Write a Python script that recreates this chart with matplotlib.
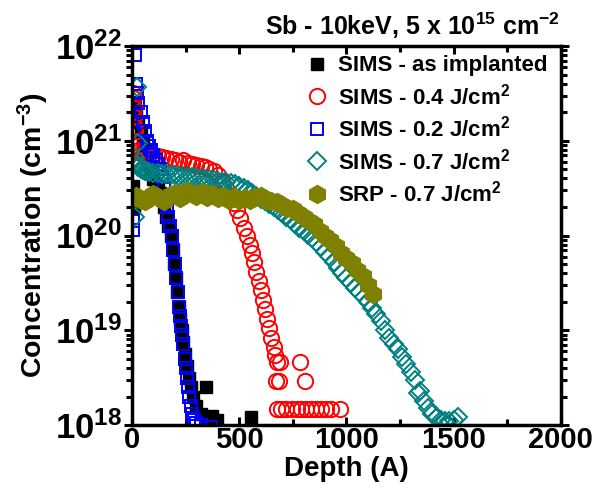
#%%
import numpy as np
import matplotlib
matplotlib.use("Agg")
import matplotlib.pyplot as plt
from matplotlib.ticker import FixedLocator, LogLocator, NullFormatter

plt.rcParams['font.family'] = ['Liberation Sans', 'DejaVu Sans']
plt.rcParams['font.weight'] = 'bold'
plt.rcParams['mathtext.fontset'] = 'custom'
plt.rcParams['mathtext.rm'] = 'Liberation Sans:bold'
plt.rcParams['mathtext.bf'] = 'Liberation Sans:bold'
plt.rcParams['mathtext.it'] = 'Liberation Sans:bold'

#%% data (depth in A, log10 of concentration in cm^-3)
asimp_d = [5, 8, 15, 20, 30, 40, 50, 60, 70, 80, 90, 100, 110, 120, 130, 140, 150, 160,
           170, 180, 190, 198, 205, 212, 218, 225, 232, 240, 248, 256, 265, 275, 285,
           300, 320, 345, 350, 375, 395, 556]
asimp_logc = [20.52, 20.3, 21.4, 21.3, 21.2, 21.1, 21.0, 20.9, 20.82, 20.74, 20.66, 20.6,
              20.55, 20.5, 20.45, 20.4, 20.3, 20.2, 20.1, 20.0, 19.85, 19.7, 19.55, 19.4,
              19.25, 19.12, 19.0, 18.88, 18.75, 18.62, 18.5, 18.4, 18.3, 18.2, 18.12,
              18.4, 18.05, 18.1, 18.05, 18.08]

j04_d = [3, 5, 8, 10, 12, 15, 18, 22, 26, 30, 40, 50, 60, 80, 100, 120, 140, 160, 180,
         200, 220, 240, 260, 280, 300, 320, 340, 360, 380, 400, 420, 440, 460, 475, 490,
         505, 520, 535, 550, 560, 570, 580, 590, 600, 610, 620, 630, 640, 650, 660, 665,
         675, 690, 670, 684, 782, 805,
         675, 695, 720, 745, 770, 790, 810, 835, 860, 880, 905, 930, 968]
j04_logc = [21.5, 21.45, 21.35, 21.25, 21.15, 21.1, 21.0, 20.95, 20.9, 20.88, 20.87, 20.86,
            20.86, 20.85, 20.85, 20.84, 20.83, 20.82, 20.81, 20.8, 20.78, 20.8, 20.77,
            20.75, 20.74, 20.73, 20.72, 20.7, 20.68, 20.64, 20.58, 20.5, 20.42, 20.34,
            20.27, 20.18, 20.08, 20.0, 19.9, 19.82, 19.72, 19.62, 19.52, 19.42, 19.32,
            19.22, 19.12, 19.02, 18.92, 18.82, 18.74, 18.66, 18.66, 18.46, 18.46, 18.66,
            18.46,
            18.17, 18.17, 18.17, 18.17, 18.17, 18.17, 18.17, 18.17, 18.17, 18.17, 18.17,
            18.17, 18.17]

j02_d = [3, 5, 15, 20, 25, 30, 40, 50, 60, 70, 80, 90, 100, 110, 120, 130, 140, 150, 160,
         165, 170, 178, 185, 192, 200, 207, 213, 220, 224, 228, 232, 238, 245, 250, 255,
         262, 268, 275, 282, 290, 300, 320, 370]
j02_logc = [20.15, 20.06, 21.9, 21.6, 21.5, 21.4, 21.3, 21.2, 21.1, 21.0, 20.95, 20.9,
            20.85, 20.8, 20.75, 20.7, 20.62, 20.5, 20.38, 20.3, 20.2, 20.1, 20.0, 19.85,
            19.7, 19.55, 19.4, 19.25, 19.15, 19.05, 18.95, 18.85, 18.7, 18.6, 18.5, 18.4,
            18.3, 18.2, 18.12, 18.05, 18.02, 18.0, 17.98]

j07_d = [12, 22, 28, 15, 25, 30, 40, 50, 60, 70, 80, 100, 120, 140, 160, 180, 200, 220,
         240, 260, 280, 300, 320, 340, 360, 380, 400, 420, 440, 460, 480, 500, 520, 540,
         560, 580, 600, 620, 640, 660, 680, 700, 720, 740, 760, 780, 800, 820, 840, 860,
         880, 900, 920, 940, 960, 980, 1000, 1020, 1040, 1060, 1080, 1100, 1120, 1140,
         1160, 1180, 1200, 1220, 1240, 1260, 1280, 1300, 1320, 1332, 1345, 1360, 1380,
         1400, 1420, 1440, 1460, 1480, 1500, 1520]
j07_logc = [20.2, 21.57, 20.98, 20.82, 20.76, 20.72, 20.7, 20.69, 20.68, 20.68, 20.67,
            20.66, 20.66, 20.65, 20.65, 20.64, 20.64, 20.63, 20.63, 20.62, 20.62, 20.62,
            20.61, 20.6, 20.6, 20.59, 20.58, 20.57, 20.56, 20.55, 20.54, 20.52, 20.5,
            20.48, 20.45, 20.42, 20.39, 20.36, 20.33, 20.3, 20.27, 20.24, 20.2, 20.16,
            20.12, 20.08, 20.05, 20.01, 19.97, 19.93, 19.88, 19.83, 19.78, 19.72, 19.66,
            19.6, 19.55, 19.5, 19.45, 19.4, 19.35, 19.3, 19.24, 19.17, 19.1, 19.0,
            18.92, 18.86, 18.8, 18.72, 18.64, 18.56, 18.48, 18.34, 18.36, 18.25, 18.18,
            18.12, 18.08, 18.05, 18.04, 18.04, 18.05, 18.08]

srp_d = [20, 40, 60, 80, 100, 125, 150, 175, 200, 225, 250, 275, 300, 325, 350, 375, 400,
         425, 450, 475, 500, 525, 550, 575, 600, 625, 650, 675, 700, 725, 750, 775, 800,
         825, 850, 875, 900, 925, 950, 975, 1000, 1025, 1050, 1075, 1100, 1125]
srp_logc = [20.42, 20.38, 20.36, 20.41, 20.44, 20.4, 20.36, 20.43, 20.45, 20.4, 20.47,
            20.45, 20.42, 20.46, 20.41, 20.44, 20.4, 20.42, 20.38, 20.41, 20.38, 20.4,
            20.37, 20.41, 20.42, 20.38, 20.36, 20.35, 20.32, 20.29, 20.28, 20.24, 20.2,
            20.15, 20.12, 20.05, 20.0, 19.95, 19.89, 19.82, 19.76, 19.71, 19.64, 19.57,
            19.48, 19.38]

labels = ["SIMS - as implanted", "SIMS - 0.4 J/cm$^2$", "SIMS - 0.2 J/cm$^2$",
          "SIMS - 0.7 J/cm$^2$", "SRP - 0.7 J/cm$^2$"]

#%%
fig = plt.figure(figsize=(6.07, 5.03), dpi=100)
ax = fig.add_axes([0.2175, 0.155, 0.7065, 0.7535])

ax.plot(asimp_d, 10**np.array(asimp_logc), ls="none", marker="s", ms=9,
        color="black", label=labels[0])
ax.plot(j04_d, 10**np.array(j04_logc), ls="none", marker="o", ms=11, mfc="none",
        mec="#ff0000", mew=1.4, label=labels[1])
ax.plot(j02_d, 10**np.array(j02_logc), ls="none", marker="s", ms=9, mfc="none",
        mec="#0000ff", mew=1.4, label=labels[2])
ax.plot(j07_d, 10**np.array(j07_logc), ls="none", marker="D", ms=9, mfc="none",
        mec="#008080", mew=1.4, label=labels[3])
ax.plot(srp_d, 10**np.array(srp_logc), ls="none", marker="h", ms=13,
        color="#808000", label=labels[4])

ax.set_yscale("log")
ax.set_xlim(0, 2000)
ax.set_ylim(1e18, 1e22)

ax.xaxis.set_minor_locator(FixedLocator([250, 750, 1250, 1750]))
ax.yaxis.set_minor_locator(LogLocator(base=10, subs=np.arange(2, 10), numticks=20))
ax.yaxis.set_minor_formatter(NullFormatter())
yt = [1e18, 1e19, 1e20, 1e21, 1e22]
ax.set_yticks(yt)
ax.set_yticklabels(["$10^{%d}$" % int(np.log10(v)) for v in yt], fontsize=25)
ax.set_xticks([0, 500, 1000, 1500, 2000])
ax.set_xticklabels(["0", "500", "1000", "1500", "2000"], fontsize=21, fontweight="bold")

ax.tick_params(which="major", direction="out", length=6, width=2.2, pad=1)
ax.tick_params(which="minor", direction="out", length=4, width=2.2)
ax.tick_params(axis="y", which="both", right=True)
ax.tick_params(axis="x", which="both", top=True, direction="in")
for s in ax.spines.values():
    s.set_linewidth(2.5)

ax.set_xlabel("Depth (A)", fontsize=20, fontweight="bold", labelpad=1)
ax.set_ylabel("Concentration (cm$^{-3}$)", fontsize=20.5, fontweight="bold")
ax.yaxis.set_label_coords(-0.19, 0.5)
fig.text(0.68, 0.948, "Sb - 10keV, 5 x 10$^{15}$ cm$^{-2}$", ha="center", va="center",
         fontsize=18, fontweight="bold")

ax.legend(loc="upper left", bbox_to_anchor=(0.405, 0.975), frameon=False,
          prop={"size": 16, "weight": "bold"}, handlelength=1.0, handletextpad=0.45,
          labelspacing=0.3, borderaxespad=0, borderpad=0, numpoints=1)

fig.savefig("out.png", dpi=100)
